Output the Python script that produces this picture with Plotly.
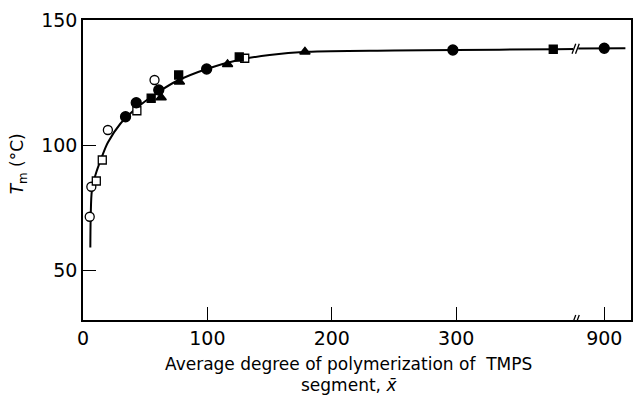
import plotly.graph_objects as go

# ---------------- data (x = average degree of polymerization, y = Tm in °C) ----------------
open_circle_x = [5.4, 6.7, 20, 57.5]
open_circle_y = [71.3, 83.3, 106, 126]

open_square_x = [10.7, 15.5, 43.3, 130]
open_square_y = [85.6, 94, 113.7, 134.7]

filled_circle_x = [34.2, 42.8, 60.9, 99.4, 297.3, 900]
filled_circle_y = [111.3, 116.9, 122, 130.4, 138, 138.7]

filled_square_x = [54.8, 76.9, 125.6, 378]
filled_square_y = [118.7, 128, 135.2, 138.3]

filled_triangle_x = [62.8, 77.5, 116.2, 178.4]
filled_triangle_y = [119, 125.3, 132.3, 137.3]

curve_x = [5.9, 6.2, 7.2, 10, 15, 20, 30, 40, 50, 60, 75, 100, 125, 150, 180, 250, 300, 380, 395]
curve_y = [59, 71, 82, 88, 95, 101, 108.5, 113.5, 117.5, 121, 125.5, 130.5, 134, 136, 137.3, 137.8, 138, 138.3, 138.4]
curve2_x = [858, 900, 934]
curve2_y = [138.6, 138.7, 138.7]

tick_values = [0, 100, 200, 300, 900]
tick_labels = ["0", "100", "200", "300", "900"]
y_ticks = [50, 100, 150]

# broken axis: values from 900 upward are drawn just after the break
BREAK_AT = 396
HIGH_START = 900
HIGH_POS = 419
HIGH_SCALE = 0.5


def xmap(v):
    return v if v < BREAK_AT else HIGH_POS + (v - HIGH_START) * HIGH_SCALE


def xm(lst):
    return [xmap(v) for v in lst]


FONT = "DejaVu Sans"
fig = go.Figure()

line_style = dict(color="black", width=2)
fig.add_trace(go.Scatter(x=xm(curve_x), y=curve_y, mode="lines", line=dict(shape="spline", **line_style), showlegend=False))
fig.add_trace(go.Scatter(x=xm(curve2_x), y=curve2_y, mode="lines", line=line_style, showlegend=False))

mk = dict(line=dict(color="black", width=1.3))
fig.add_trace(go.Scatter(x=xm(open_circle_x), y=open_circle_y, mode="markers",
                         marker=dict(symbol="circle", size=9, color="white", **mk), showlegend=False))
fig.add_trace(go.Scatter(x=xm(open_square_x), y=open_square_y, mode="markers",
                         marker=dict(symbol="square", size=8, color="white", **mk), showlegend=False))
fig.add_trace(go.Scatter(x=xm(filled_circle_x), y=filled_circle_y, mode="markers",
                         marker=dict(symbol="circle", size=10, color="black", **mk), showlegend=False))
fig.add_trace(go.Scatter(x=xm(filled_square_x), y=filled_square_y, mode="markers",
                         marker=dict(symbol="square", size=8, color="black", **mk), showlegend=False))
fig.add_trace(go.Scatter(x=xm(filled_triangle_x), y=filled_triangle_y, mode="markers",
                         marker=dict(symbol="triangle-up", size=9, color="black", **mk), showlegend=False))

# break marks "//" on curve and on the x axis
shapes = []
for yb in (138.5, 30):
    shapes.append(dict(type="rect", xref="x", yref="y", x0=BREAK_AT - 2.0, x1=BREAK_AT + 2.0,
                       y0=yb - 1.2, y1=yb + 1.2, fillcolor="white", line=dict(width=0), layer="above"))
    for dx in (-1.4, 1.4):
        shapes.append(dict(type="line", xref="x", yref="y", x0=BREAK_AT + dx - 1.5, x1=BREAK_AT + dx + 1.5,
                           y0=yb - 2.0, y1=yb + 2.0, line=dict(color="black", width=1.3), layer="above"))

fig.update_layout(
    width=636, height=397,
    margin=dict(l=83, r=3, t=20, b=77),
    paper_bgcolor="white", plot_bgcolor="white",
    font=dict(family=FONT, size=18, color="black"),
    shapes=shapes,
    xaxis=dict(range=[0, 440.5], tickmode="array", tickvals=xm(tick_values), ticktext=tick_labels,
               ticks="inside", ticklen=13, tickwidth=1.3, tickcolor="black",
               showline=True, linecolor="black", linewidth=1.5, mirror=True,
               showgrid=False, zeroline=False, tickfont=dict(size=19)),
    yaxis=dict(range=[30, 150], tickmode="array", tickvals=y_ticks,
               ticks="inside", ticklen=13, tickwidth=1.3, tickcolor="black",
               showline=True, linecolor="black", linewidth=1.5, mirror=True,
               showgrid=False, zeroline=False, tickfont=dict(size=19)),
    annotations=[
        dict(text="Average degree of polymerization of  TMPS", xref="paper", yref="paper",
             x=0.485, y=-0.1467, showarrow=False, font=dict(size=17), xanchor="center", yanchor="middle"),
        dict(text="segment, <i>x̄</i>", xref="paper", yref="paper",
             x=0.485, y=-0.2167, showarrow=False, font=dict(size=17), xanchor="center", yanchor="middle"),
        dict(text="<i>T</i><sub>m</sub> (°C)", xref="paper", yref="paper", textangle=-90,
             x=-0.118, y=0.52, showarrow=False, font=dict(size=17), xanchor="center", yanchor="middle"),
    ],
)

fig.write_html("out.html")
